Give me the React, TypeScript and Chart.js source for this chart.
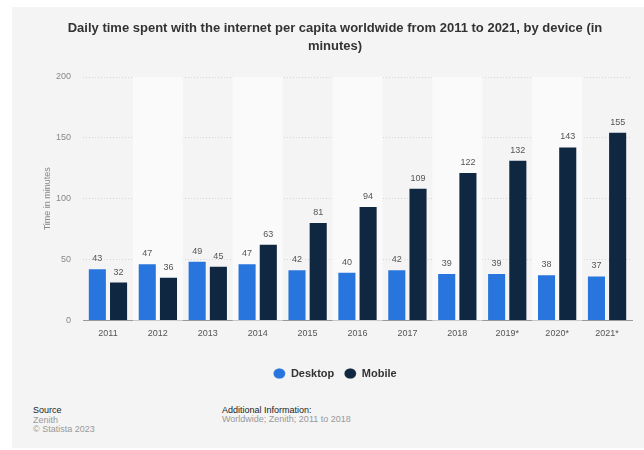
import React, { useEffect, useRef } from "react";
import { Chart, registerables } from "chart.js";

Chart.register(...registerables);

const categories = ["2011", "2012", "2013", "2014", "2015", "2016", "2017", "2018", "2019*", "2020*", "2021*"];
const desktopValues = [43, 47, 49, 47, 42, 40, 42, 39, 39, 38, 37];
const mobileValues = [32, 36, 45, 63, 81, 94, 109, 122, 132, 143, 155];
const yTicks = [0, 50, 100, 150, 200];
const titleLines = [
  "Daily time spent with the internet per capita worldwide from 2011 to 2021, by device (in",
  "minutes)",
];

const FONT = "'Liberation Sans', Arial, Helvetica, sans-serif";

const bandPlugin = {
  id: "bands",
  beforeDatasetsDraw(chart: any) {
    const { ctx, chartArea, scales } = chart;
    const x = scales.x;
    ctx.save();
    ctx.fillStyle = "#fafafa";
    for (let i = 1; i < categories.length; i += 2) {
      const c = x.getPixelForValue(i);
      const half = (chartArea.right - chartArea.left) / categories.length / 2;
      ctx.fillRect(c - half, chartArea.top, half * 2, chartArea.bottom - chartArea.top);
    }
    ctx.restore();
  },
};

const labelPlugin = {
  id: "valueLabels",
  afterDatasetsDraw(chart: any) {
    const { ctx } = chart;
    ctx.save();
    ctx.font = `9px ${FONT}`;
    ctx.fillStyle = "#555";
    ctx.textAlign = "center";
    ctx.textBaseline = "bottom";
    chart.data.datasets.forEach((ds: any, di: number) => {
      const meta = chart.getDatasetMeta(di);
      meta.data.forEach((el: any, i: number) => {
        ctx.fillText(String(ds.data[i]), el.x, el.y - 5);
      });
    });
    ctx.restore();
  },
};

export default function App() {
  const ref = useRef<HTMLCanvasElement>(null);
  useEffect(() => {
    if (!ref.current) return;
    const chart = new Chart(ref.current, {
      type: "bar",
      data: {
        labels: categories,
        datasets: [
          {
            label: "Desktop",
            data: desktopValues,
            backgroundColor: "#2876dd",
            borderColor: "rgba(255,255,255,0.25)",
            borderWidth: 1,
            categoryPercentage: 0.85,
            barPercentage: 0.9,
          },
          {
            label: "Mobile",
            data: mobileValues,
            backgroundColor: "#0f2740",
            borderColor: "rgba(255,255,255,0.25)",
            borderWidth: 1,
            categoryPercentage: 0.85,
            barPercentage: 0.9,
          },
        ],
      },
      options: {
        responsive: false,
        animation: false,
        layout: { padding: { left: 26, right: 12, top: 0, bottom: 0 } },
        plugins: {
          title: {
            display: true,
            text: titleLines,
            color: "#333",
            font: { family: FONT, size: 13, weight: "bold", lineHeight: "18px" },
            padding: { top: 12, bottom: 22 },
          },
          legend: {
            position: "bottom",
            labels: {
              usePointStyle: true,
              pointStyle: "circle",
              boxWidth: 7.5,
              boxHeight: 7.5,
              pointStyleWidth: 12,
              padding: 10,
              color: "#333",
              font: { family: FONT, size: 11, weight: "bold" },
            },
          },
          tooltip: { enabled: false },
        },
        scales: {
          x: {
            grid: { display: false, drawTicks: false },
            border: { display: true, color: "#999", width: 1 },
            ticks: { color: "#555", font: { family: FONT, size: 9 }, padding: 8 },
            afterFit: (s: any) => {
              s.height = 37.5;
            },
          },
          y: {
            min: 0,
            max: 200,
            afterBuildTicks: (s: any) => {
              s.ticks = yTicks.map((v) => ({ value: v }));
            },
            grid: {
              drawTicks: false,
              color: (c: any) => (c.tick && c.tick.value === 0 ? "rgba(0,0,0,0)" : "#d6d6d6"),
            },
            border: { display: false, dash: [1, 2] },
            ticks: { color: "#888", font: { family: FONT, size: 9 }, padding: 12 },
            title: {
              display: true,
              text: "Time in minutes",
              color: "#888",
              font: { family: FONT, size: 9 },
              padding: 4,
            },
            afterFit: (s: any) => {
              s.width = 45;
            },
          },
        },
      },
      plugins: [bandPlugin, labelPlugin],
    });
    return () => chart.destroy();
  }, []);

  const textBase: React.CSSProperties = {
    position: "absolute",
    fontFamily: FONT,
    fontSize: 9,
    lineHeight: "10px",
    whiteSpace: "nowrap",
  };

  return (
    <div style={{ position: "fixed", left: 0, top: 0, width: 644, height: 450, background: "#fff", overflow: "hidden" }}>
      <div style={{ position: "absolute", left: 12, top: 7, width: 632, height: 441, background: "#f4f4f4" }}>
        <canvas ref={ref} width={632} height={382} style={{ position: "absolute", left: 0, top: 0, width: 632, height: 382 }} />
        <div style={{ ...textBase, left: 21, top: 398, color: "#222" }}>Source</div>
        <div style={{ ...textBase, left: 21, top: 408, color: "#999" }}>Zenith</div>
        <div style={{ ...textBase, left: 21, top: 417, color: "#999" }}>© Statista 2023</div>
        <div style={{ ...textBase, left: 210, top: 398, color: "#222" }}>Additional Information:</div>
        <div style={{ ...textBase, left: 210, top: 407, color: "#999" }}>Worldwide; Zenith; 2011 to 2018</div>
      </div>
    </div>
  );
}
